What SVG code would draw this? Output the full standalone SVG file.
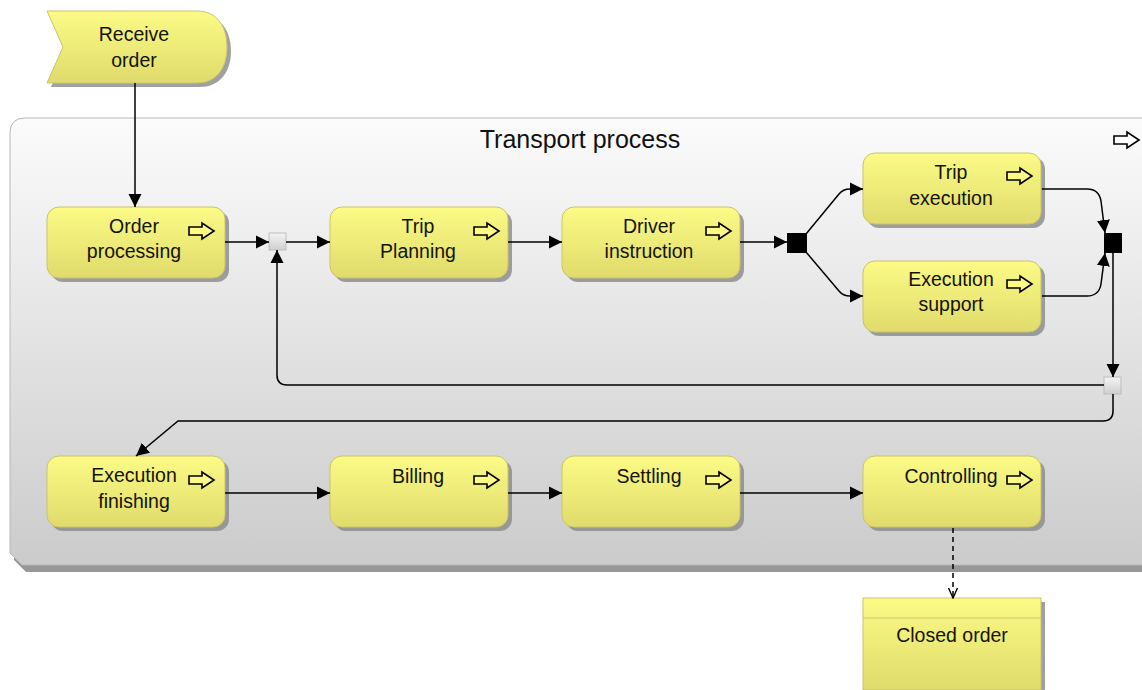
<svg xmlns="http://www.w3.org/2000/svg" width="1142" height="690" viewBox="0 0 1142 690">
  <style>
    .fn { fill: url(#nodeFill); stroke: #c9c46a; stroke-width: 1; }
    .shadow { fill: #888888; opacity: 0.8; }
    .lbl { font-family: "Liberation Sans", Arial, sans-serif; font-size: 19.5px; fill: #141400; text-anchor: middle; }
    .title { font-family: "Liberation Sans", Arial, sans-serif; font-size: 25px; fill: #111; text-anchor: middle; }
    .edge { fill: none; stroke: #000; stroke-width: 1.5; }
    .dash { fill: none; stroke: #000; stroke-width: 1.5; stroke-dasharray: 5 4; }
    .icon { stroke: #000; stroke-width: 1.6; stroke-linejoin: miter; }
  </style>
  <defs>
    <linearGradient id="nodeFill" x1="0" y1="0" x2="0" y2="1">
      <stop offset="0" stop-color="#fbfb86"/>
      <stop offset="1" stop-color="#e0db6c"/>
    </linearGradient>
    <linearGradient id="frameFill" x1="0" y1="0" x2="0" y2="1">
      <stop offset="0" stop-color="#fbfbfb"/>
      <stop offset="1" stop-color="#cbcbcb"/>
    </linearGradient>
    <linearGradient id="routeFill" x1="0" y1="0" x2="0" y2="1">
      <stop offset="0" stop-color="#f4f4f4"/>
      <stop offset="1" stop-color="#cfcfcf"/>
    </linearGradient>
    <marker id="arr" markerUnits="userSpaceOnUse" markerWidth="14" markerHeight="14" viewBox="0 0 14 14" refX="13" refY="7" orient="auto">
      <path d="M0 0.5 L13 7 L0 13.5 Z" fill="#000"/>
    </marker>
    <marker id="open" markerUnits="userSpaceOnUse" markerWidth="12" markerHeight="12" viewBox="0 0 12 12" refX="11" refY="6" orient="auto">
      <path d="M1 1.5 L11 6 L1 10.5" fill="none" stroke="#000" stroke-width="1.4"/>
    </marker>
    <path id="hollowArrow" d="M0 4 H13 V0 L25 8 L13 16 V12 H0 Z"/>
  </defs>

  <rect width="1142" height="690" fill="#ffffff"/>

  <!-- process frame -->
  <g id="transport-process">
    <path d="M14 126 H1160 V572 H26 L14 560 Z" fill="#858585" opacity="0.85"/>
    <path d="M10 133 Q10 118 25 118 H1160 V565 H22 L10 553 Z" fill="url(#frameFill)" stroke="#b8b8b8" stroke-width="1"/>
    <text class="title" x="580" y="148">Transport process</text>
    <use href="#hollowArrow" x="1114" y="132" fill="#ffffff" class="icon"/>
  </g>

  <!-- start event -->
  <g id="receive-order">
    <path d="M51 15 H200 C218 15 231 28 231 51 C231 74 218 87 200 87 H51 L67 51 Z" class="shadow"/>
    <path d="M47 11 H197 C215 11 227 24 227 47 C227 70 215 83 197 83 H47 L63 47 Z" class="fn"/>
    <text class="lbl" x="134" y="41">Receive</text>
    <text class="lbl" x="134" y="67">order</text>
  </g>

  <!-- functions -->
  <g id="order-processing">
    <rect x="51" y="211" width="178" height="71" rx="12" class="shadow"/>
    <rect x="47" y="207" width="178" height="71" rx="12" class="fn"/>
    <text class="lbl" x="134" y="233">Order</text>
    <text class="lbl" x="134" y="258">processing</text>
    <use href="#hollowArrow" x="189" y="223" fill="#fbfb86" class="icon"/>
  </g>
  <g id="trip-planning">
    <rect x="334" y="211" width="178" height="71" rx="12" class="shadow"/>
    <rect x="330" y="207" width="178" height="71" rx="12" class="fn"/>
    <text class="lbl" x="418" y="233">Trip</text>
    <text class="lbl" x="418" y="258">Planning</text>
    <use href="#hollowArrow" x="474" y="223" fill="#fbfb86" class="icon"/>
  </g>
  <g id="driver-instruction">
    <rect x="566" y="211" width="178" height="71" rx="12" class="shadow"/>
    <rect x="562" y="207" width="178" height="71" rx="12" class="fn"/>
    <text class="lbl" x="649" y="233">Driver</text>
    <text class="lbl" x="649" y="258">instruction</text>
    <use href="#hollowArrow" x="706" y="223" fill="#fbfb86" class="icon"/>
  </g>
  <g id="trip-execution">
    <rect x="867" y="157" width="178" height="71" rx="12" class="shadow"/>
    <rect x="863" y="153" width="178" height="71" rx="12" class="fn"/>
    <text class="lbl" x="951" y="179">Trip</text>
    <text class="lbl" x="951" y="205">execution</text>
    <use href="#hollowArrow" x="1007" y="168" fill="#fbfb86" class="icon"/>
  </g>
  <g id="execution-support">
    <rect x="867" y="265" width="178" height="71" rx="12" class="shadow"/>
    <rect x="863" y="261" width="178" height="71" rx="12" class="fn"/>
    <text class="lbl" x="951" y="286">Execution</text>
    <text class="lbl" x="951" y="311">support</text>
    <use href="#hollowArrow" x="1007" y="276" fill="#fbfb86" class="icon"/>
  </g>
  <g id="execution-finishing">
    <rect x="51" y="460" width="178" height="71" rx="12" class="shadow"/>
    <rect x="47" y="456" width="178" height="71" rx="12" class="fn"/>
    <text class="lbl" x="134" y="482">Execution</text>
    <text class="lbl" x="134" y="508">finishing</text>
    <use href="#hollowArrow" x="189" y="472" fill="#fbfb86" class="icon"/>
  </g>
  <g id="billing">
    <rect x="334" y="460" width="178" height="71" rx="12" class="shadow"/>
    <rect x="330" y="456" width="178" height="71" rx="12" class="fn"/>
    <text class="lbl" x="418" y="483">Billing</text>
    <use href="#hollowArrow" x="474" y="472" fill="#fbfb86" class="icon"/>
  </g>
  <g id="settling">
    <rect x="566" y="460" width="178" height="71" rx="12" class="shadow"/>
    <rect x="562" y="456" width="178" height="71" rx="12" class="fn"/>
    <text class="lbl" x="649" y="483">Settling</text>
    <use href="#hollowArrow" x="706" y="472" fill="#fbfb86" class="icon"/>
  </g>
  <g id="controlling">
    <rect x="867" y="460" width="178" height="71" rx="12" class="shadow"/>
    <rect x="863" y="456" width="178" height="71" rx="12" class="fn"/>
    <text class="lbl" x="951" y="483">Controlling</text>
    <use href="#hollowArrow" x="1007" y="472" fill="#fbfb86" class="icon"/>
  </g>

  <!-- output event -->
  <g id="closed-order">
    <rect x="867" y="602" width="178" height="92" class="shadow"/>
    <rect x="863" y="598" width="178" height="92" class="fn"/>
    <line x1="863" y1="618" x2="1041" y2="618" stroke="#c9c46a" stroke-width="1"/>
    <text class="lbl" x="952" y="642">Closed order</text>
  </g>

  <!-- routing points -->
  <g id="xor-merge">
    <rect x="269" y="233" width="17" height="17" fill="url(#routeFill)" stroke="#bdbdbd" stroke-width="1"/>
  </g>
  <g id="and-split">
    <rect x="787" y="233" width="20" height="20" fill="#000"/>
  </g>
  <g id="and-join">
    <rect x="1104" y="233" width="18" height="20" fill="#000"/>
  </g>
  <g id="xor-split">
    <rect x="1104" y="377" width="17" height="17" fill="url(#routeFill)" stroke="#bdbdbd" stroke-width="1"/>
  </g>

  <!-- connectors -->
  <g id="connectors">
    <path class="edge" d="M135 83 V207" marker-end="url(#arr)"/>
    <path class="edge" d="M225 242 H269" marker-end="url(#arr)"/>
    <path class="edge" d="M286 242 H330" marker-end="url(#arr)"/>
    <path class="edge" d="M508 242 H562" marker-end="url(#arr)"/>
    <path class="edge" d="M740 242 H787" marker-end="url(#arr)"/>
    <path class="edge" d="M806 234 L839 194 Q843 189 850 189 H863" marker-end="url(#arr)"/>
    <path class="edge" d="M806 252 L839 291 Q843 296 850 296 H863" marker-end="url(#arr)"/>
    <path class="edge" d="M1042 189 H1087 Q1099 189 1101 201 L1105 233" marker-end="url(#arr)"/>
    <path class="edge" d="M1042 296 H1087 Q1099 296 1101 284 L1105 253" marker-end="url(#arr)"/>
    <path class="edge" d="M1113 253 V377" marker-end="url(#arr)"/>
    <path class="edge" d="M1104 385 H287 Q277 385 277 375 V250" marker-end="url(#arr)"/>
    <path class="edge" d="M1113 394 V411 Q1113 421 1103 421 H178 L136 456" marker-end="url(#arr)"/>
    <path class="edge" d="M225 493 H330" marker-end="url(#arr)"/>
    <path class="edge" d="M508 493 H562" marker-end="url(#arr)"/>
    <path class="edge" d="M740 493 H863" marker-end="url(#arr)"/>
    <path class="dash" d="M953 528 V598" marker-end="url(#open)"/>
  </g>
</svg>
